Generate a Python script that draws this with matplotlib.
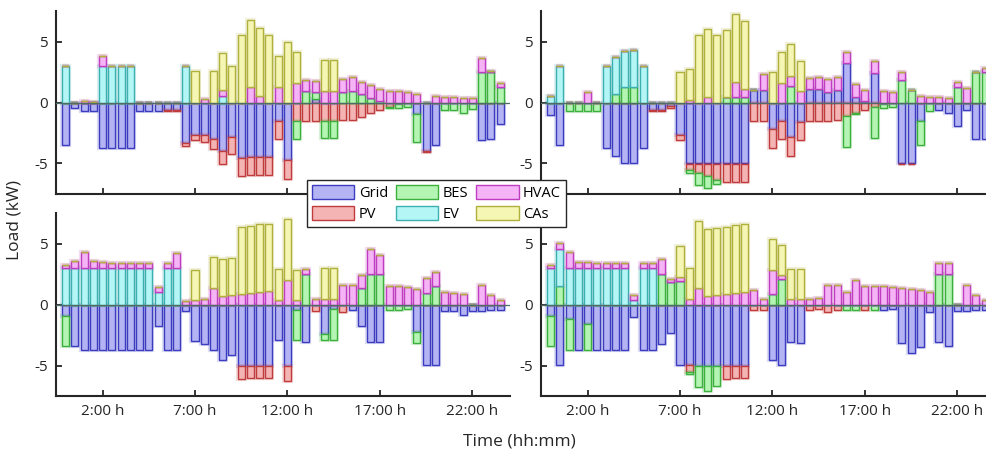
import matplotlib
matplotlib.use("Agg")
import matplotlib.pyplot as plt
import matplotlib.patheffects as pe
from matplotlib.patches import Patch
import numpy as np

plt.rcParams['font.family'] = ['Open Sans', 'DejaVu Sans']
plt.rcParams['axes.unicode_minus'] = False

# half-hourly time steps, 0:00 ... 23:30
hours = np.arange(48) * 0.5
series = ['Grid', 'PV', 'BES', 'EV', 'HVAC', 'CAs']
face = ['#b4b4f4', '#f5b4b4', '#b4f5b4', '#b4f5f5', '#f5b4f5', '#f5f5b4']
edge = ['#3c3cc0', '#c03c3c', '#3cb03c', '#3cb0b0', '#c03cc0', '#b0b03c']
tick_hours = [2, 7, 12, 17, 22]
tick_labels = ['2:00 h', '7:00 h', '12:00 h', '17:00 h', '22:00 h']

# ---- top-left
grid_a = [-3.5, -0.46, -0.7, -0.7, -3.7, -3.7, -3.7, -3.7, -0.7, -0.7, -0.7, -0.6,
          -0.6, -3.33, -2.65, -2.65, -3.0, -4.0, -2.85, -4.56, -4.48, -4.48, -4.48, -1.48,
          -4.73, 0, 0, 0.3, 0, 0, 0, 0, 0, 0, 0, 0,
          0, 0, -0.96, -3.96, -3.5, 0, 0, 0, 0, -3.06, -2.98, -1.78]
pv_a = [0, 0, 0, 0, 0, 0, 0, 0, 0, 0, 0, -0.1,
        -0.1, -0.2, -0.4, -0.6, -0.8, -1.07, -1.37, -1.5, -1.48, -1.48, -1.48, -1.5,
        -1.5, -1.48, -1.48, -1.48, -1.48, -1.48, -1.42, -1.42, -1.15, -0.87, -0.6, -0.33,
        -0.15, 0, 0, -0.1, 0, 0, 0, 0, 0, 0, 0, 0]
bes_a = [0, 0, 0, 0, 0, 0, 0, 0, 0, 0, 0, 0,
         0, 0, 0, 0, 0, 0, 0, 0, 0, 0, 0, 0,
         0, -1.5, 0.98, 0.55, -1.45, -1.45, 0.85, 0.98, 0.66, 0.36, 0.14, -0.14,
         -0.3, -0.33, -2.27, 0, 0, -0.6, -0.6, -0.87, -0.55, 2.49, 2.51, 1.26]
ev_a = [3.0, 0, 0, 0, 3.0, 3.0, 3.0, 3.0, 0, 0, 0, 0,
        0, 3.0, 0, 0, 0, 0.5, 0, 0, 0, 0, 0, 0,
        0, 0, 0, 0, 0, 0, 0, 0, 0, 0, 0, 0,
        0, 0, 0, 0, 0, 0, 0, 0, 0, 0, 0, 0]
hvac_a = [0, 0, 0.12, 0.08, 0.85, 0, 0, 0, 0, 0, 0, 0,
          0, 0, 0, 0.27, 0, 0.55, 0, 0, 1.23, 0.57, 0, 1.3,
          0, 1.58, 0.87, 0.93, 0.98, 0.98, 1.04, 1.07, 1.04, 1.04, 0.98, 0.98,
          0.98, 0.87, 0.68, 0, 0.57, 0.49, 0.41, 0.38, 0.33, 1.17, 0.05, 0.35]
cas_a = [0, 0, 0, 0, 0, 0, 0, 0, 0, 0, 0, 0,
         0, 0, 2.55, 0, 2.55, 3.0, 3.0, 5.55, 5.5, 5.52, 5.55, 2.52,
         5.0, 2.52, 0, 0, 2.49, 2.52, 0, 0, 0, 0, 0, 0,
         0, 0, 0, 0, 0, 0, 0, 0, 0, 0, 0, 0]

# ---- top-right
grid_b = [-1.0, -3.47, 0, 0, 0, 0, -3.7, -4.4, -5.0, -5.0, -3.7, -0.63,
          -0.63, -0.25, -2.68, -5.0, -5.0, -5.0, -5.0, -5.0, -5.0, -5.0, 1.04, 1.04,
          -2.19, -1.48, -2.84, -1.58, 1.07, 1.07, 0.85, 1.01, 3.2, 0.49, 0.1, 2.43,
          0, 0, -5.0, -5.0, -1.53, 0, -0.63, -0.87, -1.89, -0.6, -2.98, -2.98]
pv_b = [0, 0, 0, 0, 0, 0, 0, 0, 0, 0, 0, -0.08,
        -0.08, -0.22, -0.4, -0.57, -0.8, -1.0, -1.34, -1.5, -1.5, -1.5, -1.48, -1.48,
        -1.56, -1.48, -1.53, -1.5, -1.48, -1.48, -1.48, -1.42, -1.12, -0.87, -0.6, -0.33,
        -0.16, 0, -0.08, -0.08, 0, 0, 0, 0, 0, 0, 0, 0]
bes_b = [0, 0, -0.68, -0.68, -0.68, -0.68, 0, 0.68, 1.26, 1.26, 0, 0,
         0, 0, 0, -0.22, -1.0, -1.04, -0.36, 0.41, 0.49, 0.49, 0, 0,
         0, 0, 1.34, 0, 0, 0, 0, 0, -2.51, -0.1, 0, -2.54,
         -0.3, -0.33, 1.83, 1.04, -1.97, -0.66, 0, 0, 1.28, 0, 2.51, 2.49]
ev_b = [0.52, 3.0, 0, 0, 0, 0, 3.0, 3.03, 3.0, 3.05, 3.0, 0,
        0, 0, 0, 0, 0, 0, 0, 0, 0, 0, 0, 0,
        0, 0, 0, 0, 0, 0, 0, 0, 0, 0, 0, 0,
        0, 0, 0, 0, 0, 0, 0, 0, 0, 0, 0, 0]
hvac_b = [0, 0, 0, 0, 0.82, 0, 0, 0, 0, 0, 0, 0,
          0, 0, 0, 0.2, 0, 0.49, 0, 0, 1.23, 0.6, 0, 1.31,
          0, 1.58, 0.87, 0.93, 0.96, 1.01, 1.07, 1.04, 0.98, 1.04, 0.95, 0.96,
          0.98, 0.9, 0.71, 0, 0.55, 0.49, 0.41, 0.38, 0.41, 1.15, 0, 0.33]
cas_b = [0, 0, 0, 0, 0, 0, 0, 0, 0, 0, 0, 0,
         0, 0, 2.52, 2.55, 5.55, 5.52, 5.55, 5.52, 5.52, 5.55, 0, 0,
         2.52, 2.52, 2.57, 2.51, 0, 0, 0, 0, 0, 0, 0, 0,
         0, 0, 0, 0, 0, 0, 0, 0, 0, 0, 0, 0]

# ---- bottom-left
grid_c = [-0.93, -3.43, -3.7, -3.7, -3.7, -3.7, -3.7, -3.7, -3.7, -3.7, -1.74, -3.7,
          -3.7, -0.5, -3.02, -3.2, -3.76, -4.52, -4.16, -5.0, -5.0, -5.0, -5.0, -2.94,
          -5.0, -0.41, -3.08, 0, -2.43, -0.35, 0, -0.46, -1.77, -3.05, -3.05, 0,
          0, 0, -2.26, -4.96, -4.96, -0.57, -0.57, -0.85, -0.52, -0.52, -0.41, -0.41]
pv_c = [0, 0, 0, 0, 0, 0, 0, 0, 0, 0, 0, 0,
        0, 0, 0, 0, 0, 0, 0, -1.1, -1.0, -1.0, -1.0, 0,
        -1.23, 0, 0, -0.57, 0, 0, -0.6, 0, 0, 0, 0, 0,
        0, 0, 0, 0, 0, 0, 0, 0, 0, 0, 0, 0]
bes_c = [-2.5, 0, 0, 0, 0, 0, 0, 0, 0, 0, 0, 0,
         0, 0, 0, 0, 0, 0, 0, 0, 0, 0, 0, 0,
         0, -2.5, 2.48, 0, -0.46, -2.53, 0, 0, 1.34, 2.48, 2.48, -0.44,
         -0.44, -0.35, -0.93, 0.98, 1.5, 0, 0, 0, 0, 0, 0, 0]
ev_c = [3.0, 3.0, 3.0, 3.0, 3.0, 3.0, 3.0, 3.0, 3.0, 3.0, 1.06, 3.0,
        3.0, 0, 0, 0, 0, 0, 0, 0, 0, 0, 0, 0,
        0, 0, 0, 0, 0, 0, 0, 0, 0, 0, 0, 0,
        0, 0, 0, 0, 0, 0, 0, 0, 0, 0, 0, 0]
hvac_c = [0.25, 0.57, 1.34, 0.55, 0.46, 0.38, 0.38, 0.38, 0.38, 0.38, 0.36, 0.38,
          1.25, 0.27, 0.35, 0.46, 1.36, 0.68, 0.76, 0.84, 0.93, 1.0, 1.12, 0.35,
          2.02, 0.35, 0.41, 0.44, 0.46, 0.46, 1.58, 1.58, 1.04, 2.04, 1.55, 1.53,
          1.5, 1.42, 1.31, 1.23, 1.15, 1.04, 0.93, 0.87, 0, 1.58, 0.79, 0.35]
cas_c = [0, 0, 0, 0, 0, 0, 0, 0, 0, 0, 0, 0,
         0, 0, 2.51, 0, 2.51, 3.03, 3.03, 5.54, 5.53, 5.56, 5.5, 2.53,
         5.0, 2.5, 0, 0, 2.53, 2.53, 0, 0, 0, 0, 0, 0,
         0, 0, 0, 0, 0, 0, 0, 0, 0, 0, 0, 0]

# ---- bottom-right
grid_d = [-0.95, -4.96, -1.2, -3.7, -1.6, -3.7, -3.7, -3.7, -3.7, -1.06, -3.7, -3.7,
          -3.22, -2.34, -4.96, -4.96, -5.0, -5.0, -5.0, -5.0, -5.0, -5.0, 0, 0,
          -4.52, -4.96, -3.05, -3.19, 0, 0, 0, 0, 0, 0, 0, 0,
          -0.44, -0.35, -3.19, -3.95, -3.46, -0.6, -3.11, -3.38, -0.52, -0.52, -0.41, -0.41]
pv_d = [0, 0, 0, 0, 0, 0, 0, 0, 0, 0, 0, 0,
        0, 0, 0, -0.55, 0, 0, 0, -1.1, -1.0, -1.0, -0.44, -0.44,
        0, 0, 0, 0, -0.41, -0.35, -0.63, -0.41, 0, 0, -0.44, 0,
        0, 0, 0, 0, 0, 0, 0, 0, 0, 0, 0, 0]
bes_d = [-2.48, 1.53, -2.5, 0, -2.1, 0, 0, 0, 0, 0, 0, 0,
         2.48, 1.85, 1.93, -0.16, -1.8, -2.07, -1.72, 0, 0, 0, 0, 0,
         0.84, 2.07, 0, 0, 0, 0, 0, 0, -0.44, -0.44, 0, -0.44,
         0, 0, 0, 0, 0, 0, 2.48, 2.48, 0, 0, 0, 0]
ev_d = [3.0, 3.0, 3.0, 3.0, 3.0, 3.0, 3.0, 3.0, 3.0, 0.35, 3.0, 3.0,
        0, 0, 0, 0, 0, 0, 0, 0, 0, 0, 0, 0,
        0, 0, 0, 0, 0, 0, 0, 0, 0, 0, 0, 0,
        0, 0, 0, 0, 0, 0, 0, 0, 0, 0, 0, 0]
hvac_d = [0.22, 0.55, 1.31, 0.52, 0.46, 0.38, 0.38, 0.38, 0.38, 0.41, 0.38, 0.38,
          1.25, 0.27, 0.35, 0.46, 1.36, 0.71, 0.79, 0.87, 0.95, 1.06, 1.17, 0.41,
          2.02, 0.33, 0.41, 0.46, 0.46, 0.52, 1.58, 1.58, 1.06, 2.02, 1.55, 1.53,
          1.5, 1.42, 1.34, 1.23, 1.15, 1.04, 0.95, 0.9, 0, 1.58, 0.79, 0.35]
cas_d = [0, 0, 0, 0, 0, 0, 0, 0, 0, 0, 0, 0,
         0, 0, 2.51, 2.51, 5.5, 5.48, 5.5, 5.5, 5.56, 5.5, 0, 0,
         2.5, 2.5, 2.51, 2.48, 0, 0, 0, 0, 0, 0, 0, 0,
         0, 0, 0, 0, 0, 0, 0, 0, 0, 0, 0, 0]

panels = [
    [grid_a, pv_a, bes_a, ev_a, hvac_a, cas_a],
    [grid_b, pv_b, bes_b, ev_b, hvac_b, cas_b],
    [grid_c, pv_c, bes_c, ev_c, hvac_c, cas_c],
    [grid_d, pv_d, bes_d, ev_d, hvac_d, cas_d],
]

fig = plt.figure(figsize=(9.87, 4.57), dpi=100)
W, H = 987, 457
# [left, top, right, bottom] in pixels; right column runs past the image edge
boxes = [(56, 11, 510, 194), (541, 11, 995, 194),
         (56, 213, 510, 396), (541, 213, 995, 396)]

for k, (box, data) in enumerate(zip(boxes, panels)):
    l, t, r, b = box
    ax = fig.add_axes([l / W, 1 - b / H, (r - l) / W, (b - t) / H])
    pos = np.zeros(48)
    neg = np.zeros(48)
    for vals, fc, ec in zip(data, face, edge):
        v = np.array(vals, dtype=float)
        bottom = np.where(v >= 0, pos, neg)
        bars = ax.bar(hours, v, width=0.38, bottom=bottom, color=fc,
                      edgecolor=ec, linewidth=1.0, zorder=2)
        for p in bars:
            p.set_path_effects([pe.Stroke(linewidth=3, foreground=ec, alpha=0.18),
                                pe.Normal()])
        pos = np.where(v >= 0, pos + v, pos)
        neg = np.where(v < 0, neg + v, neg)
    ax.axhline(0, color='#4f6b66', lw=0.9, zorder=3)
    ax.set_xlim(-0.52, 24.04)
    ax.set_ylim(-7.5, 7.5)
    ax.set_yticks([-5, 0, 5])
    ax.set_yticklabels(['-5', '0', '5'])
    ax.set_xticks(tick_hours)
    if k >= 2:
        ax.set_xticklabels(tick_labels)
    else:
        ax.set_xticklabels([])
    for s in ['top', 'right']:
        ax.spines[s].set_visible(False)
    for s in ['left', 'bottom']:
        ax.spines[s].set_linewidth(1.5)
        ax.spines[s].set_color('#262626')
    ax.tick_params(direction='in', length=4, width=1.3, colors='#262626',
                   labelsize=11, pad=6)

fig.text(15 / W, 1 - 220 / H, 'Load (kW)', rotation=90, ha='center', va='center',
         fontsize=12.5, color='#262626')
fig.text(519 / W, 1 - 441 / H, 'Time (hh:mm)', ha='center', va='center',
         fontsize=12.5, color='#262626')

handles = [Patch(facecolor=fc, edgecolor=ec, linewidth=1.0) for fc, ec in zip(face, edge)]
leg = fig.legend(handles, series, ncol=3, loc='lower left',
                 bbox_to_anchor=(307 / W, 1 - 227 / H), fontsize=10.5,
                 frameon=True, fancybox=False, framealpha=1, edgecolor='#262626',
                 handlelength=2.9, handleheight=1.1, handletextpad=0.3,
                 columnspacing=0.55, labelspacing=0.35, borderpad=0.35,
                 borderaxespad=0)
leg.get_frame().set_linewidth(1.0)

fig.savefig('out.png', dpi=100)
